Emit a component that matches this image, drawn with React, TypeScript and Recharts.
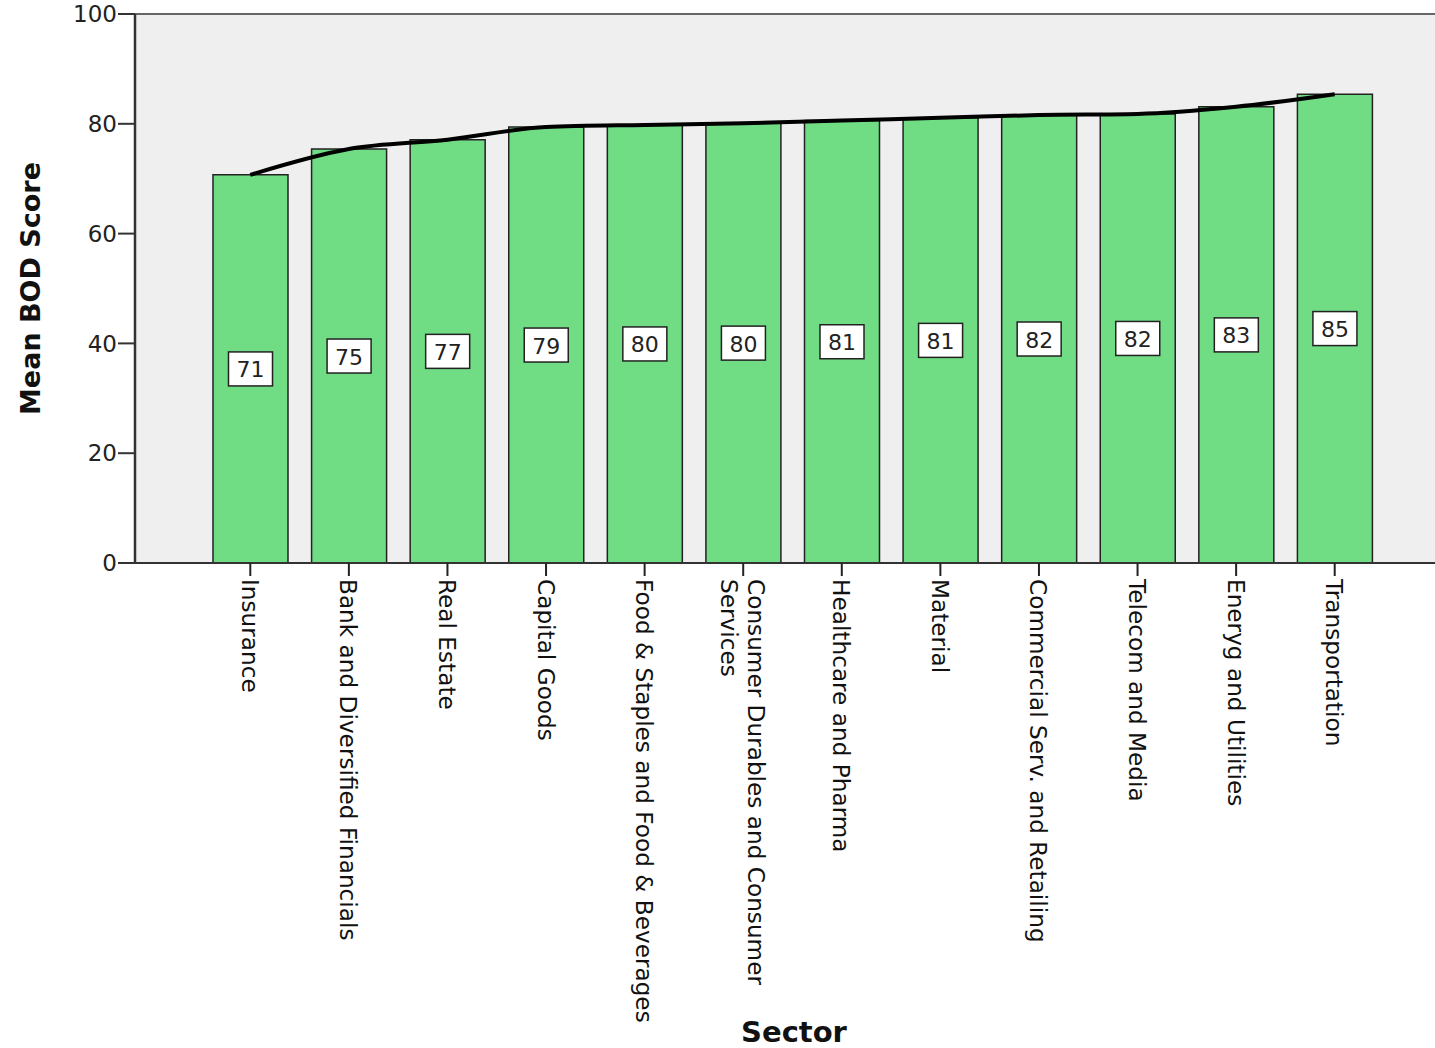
import React from "react";
import { ComposedChart, Bar, Line, XAxis, YAxis, CartesianGrid, ReferenceLine, LabelList } from "recharts";

// sector names as printed on the axis (including the original "Eneryg" typo)
const sectors = [
    "Insurance",
    "Bank and Diversified Financials",
    "Real Estate",
    "Capital Goods",
    "Food & Staples and Food & Beverages",
    "Consumer Durables and Consumer Services",
    "Healthcare and Pharma",
    "Material",
    "Commercial Serv. and Retailing",
    "Telecom and Media",
    "Eneryg and Utilities",
    "Transportation",
];

const meanScores = [70.7, 75.4, 77.1, 79.4, 79.8, 80.1, 80.6, 81.1, 81.6, 81.8, 83.1, 85.4];

const yTicks = [0, 20, 40, 60, 80, 100];

const chartData = sectors.map((name, i) => ({ name, value: meanScores[i] }));

const FONT = "DejaVu Sans";

function wrapLabel(text: string, maxChars = 36): string[] {
    const words = text.split(" ");
    const lines: string[] = [];
    let cur = "";
    for (const w of words) {
        const next = cur ? cur + " " + w : w;
        if (next.length > maxChars && cur) {
            lines.push(cur);
            cur = w;
        } else {
            cur = next;
        }
    }
    if (cur) lines.push(cur);
    return lines;
}

const SectorTick = (props: any) => {
    const { x, y, payload } = props;
    const lines = wrapLabel(String(payload.value));
    const lh = 27;
    return (
        <g transform={`translate(${x},${y})`}>
            <text transform="rotate(90)" textAnchor="start" fontSize={23.2} fill="#111" fontFamily={FONT}>
                {lines.map((l, i) => (
                    <tspan key={i} x={1} y={(i - (lines.length - 1) / 2) * lh} dominantBaseline="central">
                        {l}
                    </tspan>
                ))}
            </text>
        </g>
    );
};

const BoxLabel = (props: any) => {
    const vb = props.viewBox ?? props;
    const { x, y, width, height } = vb;
    const cx = x + width / 2;
    const cy = y + height / 2;
    const bw = 44;
    const bh = 34;
    return (
        <g>
            <rect x={cx - bw / 2} y={cy - bh / 2} width={bw} height={bh} fill="#fff" stroke="#222" strokeWidth={1.5} />
            <text x={cx} y={cy + 1} textAnchor="middle" dominantBaseline="central" fontSize={22} fill="#222" fontFamily={FONT}>
                {Math.round(Number(props.value))}
            </text>
        </g>
    );
};

const YTitle = (props: any) => {
    const vb = props.viewBox;
    const cx = 30;
    const cy = vb.y + vb.height / 2;
    return (
        <text
            x={cx}
            y={cy}
            transform={`rotate(-90, ${cx}, ${cy})`}
            textAnchor="middle"
            dominantBaseline="central"
            fontSize={27}
            fontWeight="bold"
            fill="#111"
            fontFamily={FONT}
        >
            Mean BOD Score
        </text>
    );
};

const XTitle = (props: any) => {
    const vb = props.viewBox;
    return (
        <text x={vb.x + vb.width / 2 + 9} y={1042} textAnchor="middle" fontSize={29} fontWeight="bold" fill="#111" fontFamily={FONT}>
            Sector
        </text>
    );
};

export default function App() {
    return (
        <div style={{ position: "absolute", left: 0, top: 0, background: "#fff" }}>
            <ComposedChart width={1435} height={1048} data={chartData} margin={{ top: 14, right: 0, bottom: 0, left: 0 }}>
                <CartesianGrid fill="#efefef" stroke="none" horizontal={false} vertical={false} />
                <XAxis
                    dataKey="name"
                    interval={0}
                    height={485}
                    padding={{ left: 66, right: 51 }}
                    tickSize={13}
                    tickMargin={2}
                    tickLine={{ stroke: "#222", strokeWidth: 2 }}
                    axisLine={{ stroke: "#333", strokeWidth: 2 }}
                    tick={<SectorTick />}
                    label={{ content: <XTitle /> }}
                />
                <YAxis
                    domain={[0, 100]}
                    ticks={yTicks}
                    width={135}
                    tickSize={17}
                    tickMargin={1}
                    tickLine={{ stroke: "#333", strokeWidth: 2 }}
                    axisLine={{ stroke: "#333", strokeWidth: 2.5 }}
                    tick={{ fontSize: 23, fill: "#222", fontFamily: FONT }}
                    label={{ content: <YTitle /> }}
                />
                <ReferenceLine y={100} stroke="#666" strokeWidth={2} />
                <Bar dataKey="value" fill="#70dc84" stroke="#222" strokeWidth={1.5} barSize={75} isAnimationActive={false}>
                    <LabelList dataKey="value" content={<BoxLabel />} />
                </Bar>
                <Line type="monotone" dataKey="value" stroke="#000" strokeWidth={4} dot={false} activeDot={false} isAnimationActive={false} />
            </ComposedChart>
        </div>
    );
}
